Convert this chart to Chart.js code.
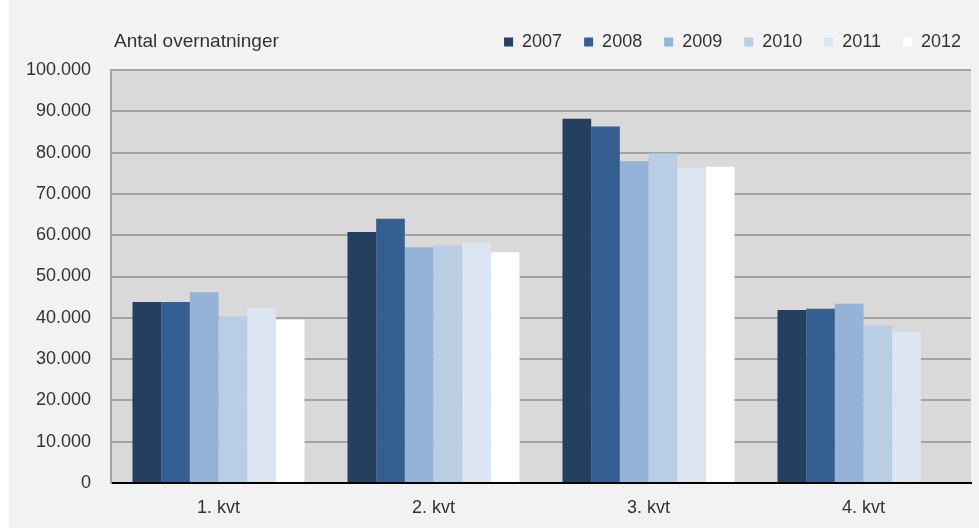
<!DOCTYPE html>
<html>
<head>
<meta charset="utf-8">
<script src="https://cdn.jsdelivr.net/npm/chart.js@4/dist/chart.umd.min.js"></script>
<style>
  html, body { margin: 0; padding: 0; background: #ffffff; }
  #wrap { position: absolute; left: 9px; top: 0px; width: 970px; height: 528px; background: #f2f2f2; }
  canvas { display: block; }
</style>
</head>
<body>
<div id="wrap"><canvas id="c" width="970" height="528"></canvas></div>
<script>
const categories = ['1. kvt', '2. kvt', '3. kvt', '4. kvt'];
const years = ['2007', '2008', '2009', '2010', '2011', '2012'];
const v2007 = [43800, 60800, 88200, 41900];
const v2008 = [43800, 64000, 86300, 42200];
const v2009 = [46200, 57100, 77900, 43400];
const v2010 = [40300, 57500, 79800, 38200];
const v2011 = [42500, 58100, 76300, 36600];
const v2012 = [39500, 55900, 76600, null];
const yTicks = [0, 10000, 20000, 30000, 40000, 50000, 60000, 70000, 80000, 90000, 100000];
const yTitle = 'Antal overnatninger';

const seriesValues = [v2007, v2008, v2009, v2010, v2011, v2012];
const colors = ['#243f60', '#355f91', '#95b3d7', '#b9cde5', '#dce6f2', '#ffffff'];
const FONT = '"Liberation Sans", Arial, sans-serif';
const TXT = '#333333';

function fmt(v) { return String(v).replace(/\B(?=(\d{3})+(?!\d))/g, '.'); }

const plotBg = {
  id: 'plotBg',
  beforeDraw(chart) {
    const a = chart.chartArea, ctx = chart.ctx;
    ctx.save();
    ctx.fillStyle = '#d9d9d9';
    ctx.fillRect(a.left, a.top, a.right - a.left, a.bottom - a.top);
    ctx.restore();
  }
};
const topTitle = {
  id: 'topTitle',
  afterDraw(chart) {
    const ctx = chart.ctx;
    ctx.save();
    ctx.font = '19px ' + FONT;
    ctx.fillStyle = TXT;
    ctx.textBaseline = 'middle';
    ctx.textAlign = 'left';
    ctx.fillText(yTitle, 105, 42);
    ctx.restore();
  }
};
const legendFix = {
  id: 'legendFix',
  beforeLayout(chart) {
    const lg = chart.legend;
    if (lg && !lg._patched) {
      const orig = lg.fit.bind(lg);
      lg.fit = function () { orig(); this.height = 59; };
      lg._patched = true;
    }
  },
  afterLayout(chart) {
    const lg = chart.legend;
    if (lg) { lg.left += 12; lg.right += 12; }
  }
};

new Chart(document.getElementById('c'), {
  type: 'bar',
  data: {
    labels: categories,
    datasets: years.map((y, i) => ({
      label: y,
      data: seriesValues[i],
      backgroundColor: colors[i],
      borderWidth: 0,
      categoryPercentage: 0.8,
      barPercentage: 1.0
    }))
  },
  options: {
    responsive: false,
    animation: false,
    layout: { padding: { top: 11, right: 8, left: 0, bottom: 0 } },
    plugins: {
      tooltip: { enabled: false },
      legend: {
        position: 'top',
        align: 'end',
        labels: {
          boxWidth: 9,
          boxHeight: 9,
          padding: 22,
          color: TXT,
          font: { family: FONT, size: 18 }
        }
      }
    },
    scales: {
      x: {
        grid: { display: false, drawTicks: false },
        border: { display: true, color: '#000000', width: 2 },
        ticks: { color: TXT, font: { family: FONT, size: 18 }, padding: 14 },
        afterFit(s) { s.height = 45; }
      },
      y: {
        min: 0,
        max: 100000,
        afterBuildTicks(s) { s.ticks = yTicks.map(v => ({ value: v })); },
        grid: { color: '#a3a3a3', lineWidth: 2, drawTicks: false },
        border: { display: true, color: '#a3a3a3', width: 2 },
        ticks: { color: TXT, font: { family: FONT, size: 18 }, padding: 20, callback: v => fmt(v) },
        afterFit(s) { s.width = 102; }
      }
    }
  },
  plugins: [plotBg, topTitle, legendFix]
});
</script>
</body>
</html>
